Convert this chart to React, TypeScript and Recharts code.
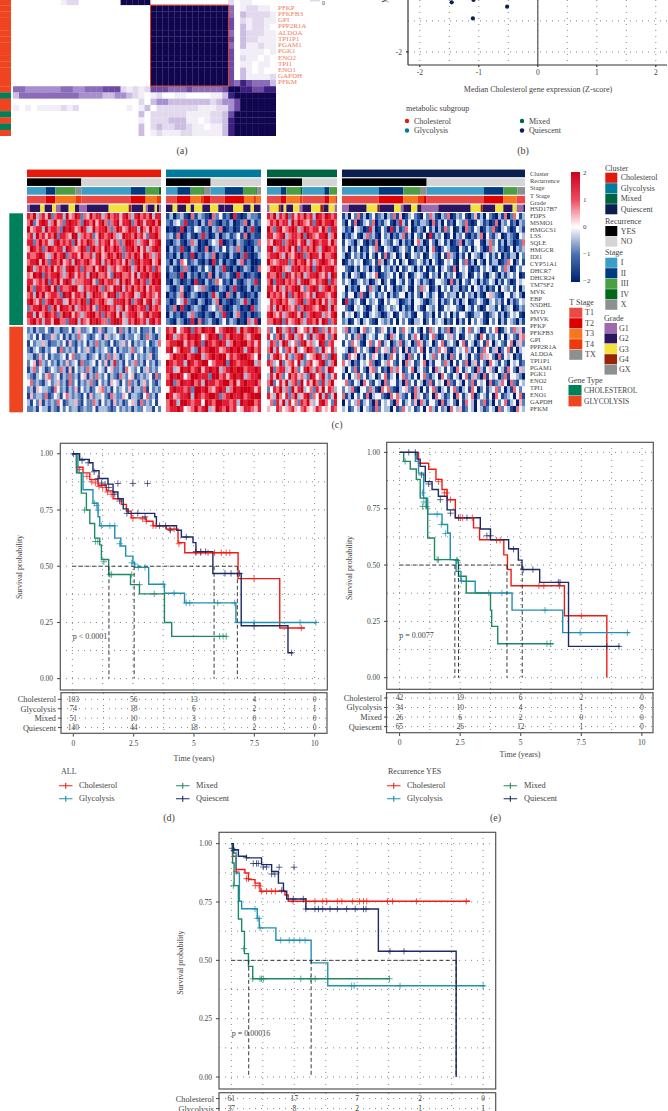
import { CartesianGrid, ComposedChart, Line, ReferenceLine, Scatter, ScatterChart, XAxis, YAxis } from 'recharts';

const serif = '"Liberation Serif", serif';
const textColor = '#444';

// ---- panel (a): correlation heatmap, levels 0 (white) to 8 (navy)
const corrRows = [
  '00000000122000000088888000000000000020110000',
  '00000000000000000000000888888888888850122110',
  '00000000000000000000000888888888888850322221',
  '00000000000000000000000888888888888860212211',
  '00000000000000000000000888888888888860312210',
  '00000000000000000000000888888888888850322211',
  '00000000000000000000000888888888888860322111',
  '00000000000000000000000888888888888850311211',
  '00000000000000000000000888888888888860111101',
  '00000000000000000000000888888888888860211010',
  '00000000000000000000000888888888888860110110',
  '00000000000000000000000888888888888860310100',
  '00000000000000000000000888888888888860311112',
  '00000000000000000000000888888888888865765553',
  '55444444554455566621212666555655555688776677',
  '35555555555444433443210120011000011378888888',
  '00000000000000000000020344333333323446888888',
  '10101111212000000001013022222221112246888888',
  '00000000000000000000030222222111122368888888',
  '00000000000000000000010222333110122378888888',
  '00000000000000000000030232233211011378888888',
  '00000000000000000000030121112211111378888888',
];
const corrStrip = 'OOOOOOOOOOOOOOOGOOGOGO'.split('');
const corrGenes = ['PFKP', 'PFKFB3', 'GPI', 'PPP2R1A', 'ALDOA', 'TPI1P1', 'PGAM1', 'PGK1', 'ENO2', 'TPI1', 'ENO1', 'GAPDH', 'PFKM'];
const corrColors: Record<string, string> = {
  '0': '#ffffff', '1': '#f2eef7', '2': '#e2d9ef', '3': '#cbbde2', '4': '#a78fcf', '5': '#8a6cb9',
  '6': '#6b4ba3', '7': '#3c1f80', '8': '#10064f', O: '#ee4420', G: '#00805a',
};

// ---- panel (b): the few visible points
const quadrantX = [-1.46, -1.09, -0.52, -1.1];
const quadrantY = [-1.2, -1.16, -1.27, -1.46];
const quadrantTicksX = [-2, -1, 0, 1, 2];
const quadrantTicksY = [-2, -1];

// ---- panel (c): expression heatmap, levels 0 (-2) to 8 (+2)
const cholCluster = [
  '76836 75826 77385 68726 58677 36867 75786 37867 68377',
  '68257 87368 56278 77628 76857 86267 85778 26875 77868',
  '85677 38677 62878 75687 35867 78626 87568 77386 58676',
  '67386 75768 27765 88367 67258 76786 35877 68675 27786',
  '77268 67537 86767 28576 87637 67857 62688 76367 85678',
  '58767 26876 77387 65687 27867 58768 76277 86857 36787',
  '76678 75368 67826 77586 67378 56876 87267 68758 76367',
  '67785 86277 68567 38767 86578 37687 67586 27867 78568',
  '87367 67685 76378 86727 66857 87367 56787 36868 67276',
  '65878 27677 86368 75767 38786 67528 78667 58377 86787',
  '77567 68276 85787 36667 78527 86776 38687 57867 26878',
  '86277 67858 27667 88537 67786 27658 78376 86768 57677',
  '67386 85677 62878 57768 36877 65878 26767 85378 67657',
  '78657 26786 77358 67687 28767 86537 77868 26785 78367',
  '26778 67268 58776 83677 68527 78767 36857 87677 28676',
  '77385 68767 26878 57636 78867 27678 58367 78657 86778',
  '67867 37758 86627 78376 58787 66278 87537 68767 37867',
];
const cholBottom = [
  '23132 24213 31224 13522 34125 21334 16231 32412 23143',
  '32414 12253 24131 32634 21243 15323 42132 24312 63213',
  '14233 53122 32415 21324 13262 32141 23524 13232 41236',
  '21342 13244 16232 31423 52132 34214 13223 62341 32124',
  '33125 24132 23414 62233 12341 32625 31243 14232 35124',
  '24516 32423 13252 34162 23414 25137 23142 36231 42313',
  '13624 31243 26315 14232 63124 31452 23164 32413 52324',
  '32134 25623 41326 23145 13263 24132 16324 51232 34162',
  '46232 13423 52316 24132 36214 23154 31426 23135 24213',
  '23154 33216 42313 25142 31245 62314 23425 13326 14232',
  '15233 26124 31463 23214 15233 42163 22541 33214 62314',
  '31425 13232 64123 35214 22631 42315 23124 53162 32414',
  '22314 33132 14242 33123 22413 33212 42323 13224 33142',
];
const glyTop = [
  '13023 10613 21062 41207 10132 21',
  '21342 71120 31621 02130 12603 12',
  '01017 02143 12032 60120 13027 10',
  '23160 13102 72013 02312 41602 11',
  '10231 02630 10243 70120 32101 26',
  '03127 10320 16023 14132 62010 32',
  '12030 21702 13260 21031 02710 13',
  '20316 41231 02071 30210 36120 01',
  '13102 62013 14203 27102 01320 16',
  '02217 03120 21603 12310 72012 10',
  '10320 12071 03126 41203 10232 71',
  '31025 10243 62101 32027 10130 21',
  '02136 01320 10273 10620 31012 03',
  '20143 72103 20136 02101 23720 13',
  '12607 10232 01342 61013 20107 23',
  '03120 13621 02103 27103 61020 12',
  '21032 01706 12310 24132 01063 70',
];
const glyBottom = [
  '76846 78276 87784 67887 38678 76',
  '87367 68787 46878 27687 78657 88',
  '67788 57687 28767 87368 78867 57',
  '78468 77328 67887 56787 87378 67',
  '46877 86788 36787 88576 78876 48',
  '87677 38767 88467 78287 67788 36',
  '77358 78678 57878 36787 88677 87',
  '68787 46887 77288 67578 78367 78',
  '78268 77867 38776 78868 57877 86',
  '47877 67288 78657 87368 78887 57',
  '87567 78387 67887 26787 78678 88',
  '68738 87677 48768 87767 38788 67',
  '67787 45686 78358 76867 45776 57',
];
const mixTop = [
  '76837 68275 76867 38768 767',
  '57686 77386 87657 27867 786',
  '86278 56787 36876 77586 277',
  '77567 83677 68287 65778 368',
  '65877 26787 57836 87677 586',
  '78367 76858 27676 86378 767',
  '67786 38657 87268 77586 678',
  '86567 77268 67857 36787 657',
  '57878 65377 86768 27867 786',
  '76687 28757 68367 78657 387',
  '68277 86767 37886 57678 276',
  '77586 37678 85267 87367 867',
  '86767 58276 87657 38776 578',
  '47678 67536 78267 86857 367',
  '57386 87657 26877 65787 386',
  '78657 36787 58267 87736 578',
  '66878 27567 86377 68587 267',
];
const mixBottom = [
  '62487 36728 54673 87263 756',
  '74268 25783 67428 36785 268',
  '37625 87346 27856 34872 674',
  '68374 26758 34687 62385 473',
  '25786 47326 78245 68736 287',
  '76348 25674 83267 45782 368',
  '48267 73586 24786 37625 874',
  '37586 24867 56328 74683 257',
  '68247 58367 28475 86273 684',
  '24768 36285 78346 27584 763',
  '75386 47268 35782 64837 258',
  '46275 83746 27685 34786 427',
  '54476 45675 46754 57645 476',
];
const quiTop = [
  '13042 61302 41230 32615 01342 10426 31032 60132 41025 13042 10316 02641 3',
  '20416 01342 60213 41027 31402 13320 61304 12043 26101 43120 16032 41203 2',
  '31204 32017 30142 07131 26401 32041 30316 24013 06214 30132 61034 20143 1',
  '02134 10362 31042 30213 61304 21407 13240 14032 41021 36042 13401 32104 3',
  '14320 34102 16043 21430 31204 63014 20341 30126 03214 41036 24130 32012 6',
  '24031 40214 36104 32013 42140 21304 61024 31104 21403 42016 34120 14032 3',
  '30142 31304 20416 13402 40143 24014 32041 63203 14043 20341 31402 13304 2',
  '01324 34012 41630 24140 34012 43130 42014 34104 26130 42041 33012 64024 1',
  '42103 14230 31042 31304 12430 31402 14034 21604 34102 14243 01426 30142 4',
  '13043 20143 46012 34140 24013 43104 23041 32401 34014 24103 42031 34240 1',
  '24301 34230 13402 41043 14204 31320 14432 06130 42143 03124 30314 20143 4',
  '40312 04416 32041 43021 34104 26340 13042 41330 21404 31302 14043 24140 3',
  '31440 26103 41324 03124 40314 20431 34014 23304 14230 31045 32104 41342 0',
  '07213 41042 34104 24430 12304 43102 34031 24130 34012 43103 42314 03124 3',
  '42104 34201 43013 42340 31204 31043 24014 34421 04314 20143 31402 34013 2',
  '14340 24103 43201 34014 32310 44123 04142 40314 42013 34102 34130 24341 0',
  '23014 30342 10432 31404 24103 34024 13430 21403 14042 43104 24031 43203 1',
];
const quiBottom = [
  '36132 04623 41254 13042 64314 20416 34132 60243 14624 30142 46013 42635 1',
  '42413 62034 31442 06341 24136 40214 62014 35240 14342 06413 24140 34215 6',
  '14264 31046 24613 40236 13402 65134 02461 34204 61430 24164 03421 46035 2',
  '43016 42431 06245 31624 05132 46041 32645 10243 46314 02641 35024 61403 4',
  '21645 03142 54130 26414 30624 14043 62413 06241 43042 16354 20614 34021 4',
  '64302 14346 20143 64214 06341 24603 14426 30414 26035 14206 43142 04341 2',
  '30426 14205 62412 06364 12460 34214 06341 42064 13420 63145 20431 64205 3',
  '14043 62413 40246 13404 62314 04621 34064 21430 46135 20614 34026 14432 0',
  '46214 30642 14306 24413 06241 43026 14340 62143 04261 43406 12364 06214 3',
  '24361 04426 31064 62103 45216 30414 62034 14620 34164 02413 46240 31642 4',
  '61304 24160 34421 06463 21406 34124 06431 24064 13460 24314 06412 34046 1',
  '04243 61342 06143 42064 13425 06314 42061 34204 16430 42613 04246 13405 2',
  '34124 30432 16243 30412 64341 24046 31423 06435 12430 43124 30624 31064 3',
];
const trackNames = ['Cluster', 'Recurrence', 'Stage', 'T Stage', 'Grade'];
const geneNames = [
  'HSD17B7', 'FDPS', 'MSMO1', 'HMGCS1', 'LSS', 'SQLE', 'HMGCR', 'IDI1', 'CYP51A1', 'DHCR7', 'DHCR24', 'TM7SF2', 'MVK', 'EBP',
  'NSDHL', 'MVD', 'PMVK', 'PFKP', 'PFKFB3', 'GPI', 'PPP2R1A', 'ALDOA', 'TPI1P1', 'PGAM1', 'PGK1', 'ENO2', 'TPI1', 'ENO1', 'GAPDH', 'PFKM',
];
const heatColors: Record<string, string> = {
  '0': '#001f70', '1': '#1f4595', '2': '#5b80bb', '3': '#a8bcdc', '4': '#f5f5f8', '5': '#f7b6bf', '6': '#ef6a78', '7': '#e31c35', '8': '#c90015',
};
const trackColors: Record<string, string> = {
  Cholesterol: '#e31a0c', Glycolysis: '#007b9e', Mixed: '#006341', Quiescent: '#0a1e50',
  YES: '#000000', NO: '#d5d5d5',
  I: '#3c9dc6', II: '#003a80', III: '#4c9e42', IV: '#006a1a', X: '#8c9090',
  T1: '#ea4a45', T2: '#dc0000', T3: '#f97620', T4: '#ec3a0c', TX: '#8c9090',
  G1: '#9d6aad', G2: '#2a1560', G3: '#f2e23e', G4: '#9a2308', GX: '#8c9090',
  CHOLESTEROL: '#00805a', GLYCOLYSIS: '#ee4420',
};
type Seg = [string, number];
const cholTracks: Seg[][] = [
  [['Cholesterol', 402]],
  [['YES', 163], ['NO', 239]],
  [['I', 56], ['II', 29], ['III', 60], ['X', 18], ['I', 149], ['II', 44], ['III', 39], ['IV', 7]],
  [['T1', 56], ['T2', 29], ['T3', 60], ['T4', 18], ['T1', 149], ['T2', 44], ['T3', 34], ['T4', 12]],
  [['G1', 8], ['G2', 32], ['G3', 13], ['G2', 22], ['G3', 12], ['G1', 13], ['G2', 25], ['G3', 19], ['G2', 12], ['G1', 24], ['G2', 65], ['G3', 60], ['G4', 7], ['G1', 3], ['G2', 33], ['G3', 8], ['G1', 7], ['G2', 20], ['G3', 7], ['G2', 7], ['G1', 5]],
];
const glyTracks: Seg[][] = [
  [['Glycolysis', 286]],
  [['YES', 134], ['NO', 152]],
  [['I', 34], ['II', 40], ['III', 38], ['IV', 2], ['X', 20], ['I', 42], ['II', 55], ['III', 40], ['IV', 3], ['X', 12]],
  [['T1', 32], ['T2', 42], ['T3', 30], ['T4', 10], ['T2', 20], ['T1', 42], ['T2', 58], ['T3', 28], ['T4', 8], ['T3', 16]],
  [['G2', 20], ['G3', 14], ['G2', 26], ['G3', 14], ['G2', 11], ['G3', 24], ['G2', 23], ['G3', 25], ['G2', 17], ['G1', 2], ['G2', 26], ['G3', 30], ['G2', 22], ['G3', 10], ['G2', 18], ['G1', 4]],
];
const mixTracks: Seg[][] = [
  [['Mixed', 210]],
  [['YES', 105], ['NO', 105]],
  [['I', 42], ['II', 16], ['III', 42], ['IV', 6], ['I', 66], ['II', 15], ['III', 23]],
  [['T1', 42], ['T2', 16], ['T3', 40], ['T4', 8], ['T1', 66], ['T2', 15], ['T3', 18], ['T4', 5]],
  [['G1', 8], ['G3', 27], ['G4', 5], ['G2', 10], ['G3', 8], ['G2', 20], ['G3', 19], ['G1', 9], ['G2', 26], ['G3', 28], ['G4', 10], ['G2', 15], ['G3', 18], ['G1', 7]],
];
const quiTracks: Seg[][] = [
  [['Quiescent', 549]],
  [['YES', 254], ['NO', 295]],
  [['I', 110], ['II', 74], ['III', 50], ['X', 20], ['I', 172], ['II', 58], ['III', 42], ['X', 23]],
  [['T1', 110], ['T2', 74], ['T3', 42], ['T4', 20], ['T2', 8], ['T1', 172], ['T2', 58], ['T3', 40], ['T1', 25]],
  [['G1', 20], ['G2', 54], ['G3', 32], ['G4', 6], ['G2', 44], ['G3', 20], ['G1', 8], ['G2', 23], ['G3', 19], ['G2', 13], ['G1', 50], ['G2', 97], ['G3', 30], ['G4', 6], ['G2', 38], ['G3', 24], ['G2', 28], ['G3', 12], ['G1', 20], ['G2', 5]],
];

// ---- survival panels: [time, survival] steps and censor marks
type Pt = [number, number];
const dChol: Pt[] = [[0, 1], [0.17, 0.94], [0.44, 0.915], [0.72, 0.885], [1.06, 0.86], [1.4, 0.835], [1.68, 0.8], [2.02, 0.775], [2.23, 0.745], [2.43, 0.715], [3.05, 0.7], [3.33, 0.68], [3.88, 0.665], [4.36, 0.605], [4.64, 0.56], [6.84, 0.445], [8.56, 0.225], [9.6, 0.225]];
const dGly: Pt[] = [[0, 1], [0.23, 0.915], [0.44, 0.84], [0.85, 0.78], [1.06, 0.72], [1.13, 0.68], [1.75, 0.625], [2.0, 0.59], [2.2, 0.545], [2.5, 0.515], [2.57, 0.495], [3.15, 0.42], [3.8, 0.38], [4.63, 0.337], [6.75, 0.25], [10.1, 0.25]];
const dMix: Pt[] = [[0, 1], [0.17, 0.915], [0.37, 0.825], [0.58, 0.75], [0.72, 0.69], [0.92, 0.625], [1.13, 0.595], [1.2, 0.53], [1.5, 0.463], [2.4, 0.418], [2.77, 0.377], [3.8, 0.25], [4.1, 0.188], [6.35, 0.188]];
const dQui: Pt[] = [[0, 1], [0.3, 0.975], [0.7, 0.96], [0.85, 0.925], [1.1, 0.89], [1.47, 0.865], [1.68, 0.83], [1.88, 0.8], [2.1, 0.755], [2.3, 0.735], [3.4, 0.72], [3.47, 0.68], [4.3, 0.66], [4.5, 0.63], [4.98, 0.605], [5.1, 0.565], [5.8, 0.468], [6.97, 0.235], [8.9, 0.115], [9.1, 0.115]];
const dCholCens: Pt[] = [[0.3, 0.93], [0.6, 0.9], [0.8, 0.875], [0.95, 0.87], [1.1, 0.855], [1.25, 0.85], [1.45, 0.83], [1.6, 0.82], [2.5, 0.715], [2.9, 0.71], [3.05, 0.7], [3.33, 0.68], [3.45, 0.68], [4.0, 0.665], [4.2, 0.665], [4.4, 0.6], [5.1, 0.56], [5.3, 0.56], [5.6, 0.56], [5.87, 0.56], [6.15, 0.56], [6.35, 0.56], [6.5, 0.56], [7.5, 0.445], [9.45, 0.225]];
const dGlyCens: Pt[] = [[0.92, 0.78], [1.0, 0.77], [1.06, 0.75], [1.2, 0.68], [1.55, 0.68], [1.75, 0.68], [1.95, 0.6], [2.45, 0.515], [2.57, 0.51], [2.72, 0.495], [3.0, 0.495], [3.75, 0.42], [4.2, 0.38], [4.7, 0.337], [4.85, 0.337], [6.0, 0.337], [6.7, 0.337], [7.5, 0.25], [9.4, 0.25], [10.05, 0.25]];
const dMixCens: Pt[] = [[0.5, 0.75], [0.95, 0.61], [1.05, 0.61], [1.3, 0.52], [1.55, 0.463], [1.62, 0.463], [2.45, 0.463], [2.77, 0.418], [3.38, 0.377], [6.08, 0.188], [6.22, 0.188], [6.35, 0.188]];
const dQuiCens: Pt[] = [[0.05, 1], [0.4, 0.97], [0.65, 0.96], [0.9, 0.92], [1.05, 0.89], [1.2, 0.87], [1.35, 0.865], [1.5, 0.85], [1.75, 0.82], [1.95, 0.79], [2.25, 0.735], [2.7, 0.735], [3.0, 0.72], [3.6, 0.68], [3.85, 0.68], [4.05, 0.66], [4.7, 0.63], [5.1, 0.565], [5.3, 0.565], [5.5, 0.565], [1.88, 0.868], [2.5, 0.868], [3.1, 0.868], [6.3, 0.468], [6.55, 0.468], [6.9, 0.468], [7.5, 0.235], [9.05, 0.115]];
const dMedians = [1.51, 2.55, 5.85, 6.81];
const dRisk = [[103, 56, 13, 4, 0], [74, 18, 6, 2, 1], [51, 10, 3, 0, 0], [140, 44, 18, 2, 0]];

const eChol: Pt[] = [[0, 1], [0.78, 0.952], [1.2, 0.925], [1.5, 0.88], [1.75, 0.835], [1.96, 0.79], [2.3, 0.71], [3.05, 0.665], [3.3, 0.612], [4.3, 0.545], [4.45, 0.48], [4.6, 0.408], [6.8, 0.275], [8.55, 0]];
const eGly: Pt[] = [[0, 1], [0.65, 0.96], [0.78, 0.908], [0.99, 0.797], [1.16, 0.726], [1.75, 0.68], [1.98, 0.642], [2.09, 0.524], [2.33, 0.472], [2.53, 0.428], [3.12, 0.376], [4.64, 0.3], [6.73, 0.2], [9.5, 0.2]];
const eMix: Pt[] = [[0, 1], [0.17, 0.96], [0.44, 0.926], [0.69, 0.88], [0.85, 0.797], [1.1, 0.753], [1.16, 0.62], [1.44, 0.524], [2.43, 0.45], [2.75, 0.376], [3.75, 0.3], [3.8, 0.228], [4.05, 0.151], [6.35, 0.151]];
const eQui: Pt[] = [[0, 1], [0.72, 0.97], [0.85, 0.938], [1.06, 0.87], [1.34, 0.835], [1.6, 0.805], [1.96, 0.745], [2.3, 0.71], [3.33, 0.66], [3.75, 0.612], [4.5, 0.572], [4.9, 0.522], [5.05, 0.48], [5.78, 0.423], [6.97, 0.139], [9.1, 0.139]];
const eCholCens: Pt[] = [[1.6, 0.87], [1.85, 0.82], [1.95, 0.82], [2.1, 0.79], [2.5, 0.71], [2.6, 0.71], [3.0, 0.71], [4.0, 0.61], [4.15, 0.61], [5.75, 0.408], [5.95, 0.408], [6.6, 0.408], [7.5, 0.275]];
const eGlyCens: Pt[] = [[0.95, 0.82], [1.0, 0.78], [1.55, 0.726], [1.72, 0.68], [1.9, 0.64], [2.35, 0.52], [2.55, 0.43], [3.68, 0.376], [4.22, 0.376], [6.0, 0.3], [7.45, 0.2], [9.4, 0.2]];
const eMixCens: Pt[] = [[0.23, 0.96], [0.95, 0.76], [1.1, 0.76], [1.55, 0.524], [1.6, 0.524], [2.38, 0.52], [6.08, 0.151], [6.22, 0.151]];
const eQuiCens: Pt[] = [[0.38, 1], [0.65, 1], [0.9, 0.9], [1.2, 0.86], [1.68, 0.79], [2.1, 0.73], [2.43, 0.71], [2.78, 0.71], [3.6, 0.63], [3.75, 0.63], [4.7, 0.57], [5.1, 0.48], [5.5, 0.48], [6.55, 0.423], [6.62, 0.423], [8.55, 0.139], [9.05, 0.139]];
const eMedians = [2.28, 2.43, 4.43, 5.06];
const eRisk = [[42, 19, 6, 2, 0], [34, 10, 4, 1, 0], [26, 6, 2, 0, 0], [65, 26, 12, 1, 0]];

const fChol: Pt[] = [[0, 1], [0.05, 0.946], [0.19, 0.889], [0.54, 0.874], [0.68, 0.846], [0.94, 0.831], [1.14, 0.796], [2.13, 0.78], [2.26, 0.753], [9.48, 0.753]];
const fGly: Pt[] = [[0, 1], [0.08, 0.96], [0.19, 0.874], [0.32, 0.753], [0.41, 0.721], [1.03, 0.68], [1.11, 0.639], [1.77, 0.586], [3.17, 0.489], [3.83, 0.391], [10.08, 0.391]];
const fMix: Pt[] = [[0, 1], [0.05, 0.917], [0.11, 0.82], [0.28, 0.677], [0.41, 0.624], [0.52, 0.529], [0.68, 0.474], [0.85, 0.421], [6.3, 0.421]];
const fQui: Pt[] = [[0, 1], [0.08, 0.974], [0.28, 0.946], [0.6, 0.939], [1.2, 0.91], [1.6, 0.881], [1.87, 0.831], [2.07, 0.796], [2.2, 0.763], [2.96, 0.72], [5.84, 0.539], [8.93, 0]];
const fCholCens: Pt[] = [[0.2, 0.88], [0.6, 0.85], [0.68, 0.85], [0.95, 0.82], [1.1, 0.82], [1.2, 0.796], [1.4, 0.796], [1.6, 0.796], [1.75, 0.796], [2.45, 0.753], [2.98, 0.753], [3.32, 0.753], [3.63, 0.753], [3.79, 0.753], [4.21, 0.753], [4.39, 0.753], [4.82, 0.753], [5.09, 0.753], [5.25, 0.753], [5.38, 0.753], [6.2, 0.753], [6.4, 0.753], [7.35, 0.753], [9.33, 0.753]];
const fGlyCens: Pt[] = [[0.94, 0.72], [1.03, 0.68], [1.1, 0.68], [1.14, 0.639], [1.96, 0.586], [2.3, 0.586], [2.49, 0.586], [2.72, 0.586], [2.93, 0.586], [4.78, 0.391], [4.88, 0.391], [6.7, 0.391], [10.0, 0.391]];
const fMixCens: Pt[] = [[0.08, 0.82], [0.5, 0.55], [0.85, 0.421], [1.14, 0.421], [1.2, 0.421], [1.27, 0.421], [2.76, 0.421], [3.15, 0.421], [3.33, 0.421], [6.28, 0.421]];
const fQuiCens: Pt[] = [[0.03, 0.98], [0.1, 0.97], [0.6, 0.94], [0.87, 0.915], [1.0, 0.915], [1.07, 0.915], [1.27, 0.9], [1.4, 0.9], [1.6, 0.87], [1.73, 0.87], [2.0, 0.8], [2.46, 0.763], [2.86, 0.763], [2.96, 0.72], [3.32, 0.72], [3.46, 0.72], [3.63, 0.72], [3.92, 0.72], [4.21, 0.72], [4.58, 0.72], [4.92, 0.72], [5.25, 0.72], [5.35, 0.72], [6.3, 0.539], [6.86, 0.539], [1.9, 0.899], [2.49, 0.899]];
const fMedians = [0.69, 3.17, 8.93];
const fRisk = [[61, 17, 7, 2, 0], [37, 8, 2, 1, 1]];

const groupNames = ['Cholesterol', 'Glycolysis', 'Mixed', 'Quiescent'];
const groupColors = ['#f01c14', '#2090b0', '#1f8a60', '#1c2a66'];
const timeTicks = [0, 2.5, 5, 7.5, 10];
const gridTimes = [0, 1.25, 2.5, 3.75, 5, 6.25, 7.5, 8.75, 10];
const gridSurv = [0, 0.125, 0.25, 0.375, 0.5, 0.625, 0.75, 0.875, 1];
const survTicks = [0, 0.25, 0.5, 0.75, 1];

const tickStyle = { fontSize: 7.5, fontFamily: serif, fill: textColor };
const noMargin = { top: 0, right: 0, bottom: 0, left: 0 };

function HeatGrid({ left, top, width, height, rows, colors }: { left: number; top: number; width: number; height: number; rows: string[]; colors: Record<string, string> }) {
  const clean = rows.map((r) => r.replace(/ /g, ''));
  const nCols = clean[0].length;
  const cells = clean.flatMap((row, r) => row.split('').map((level, c) => ({ c, r, level })));
  const cw = width / nCols;
  const ch = height / clean.length;
  return (
    <div style={{ position: 'absolute', left, top }}>
      <ScatterChart width={width} height={height} margin={noMargin}>
        <XAxis type="number" dataKey="c" domain={[-0.5, nCols - 0.5]} hide />
        <YAxis type="number" dataKey="r" domain={[-0.5, clean.length - 0.5]} reversed hide />
        <Scatter
          data={cells}
          isAnimationActive={false}
          shape={(p: any) => <rect x={p.cx - cw / 2} y={p.cy - ch / 2} width={cw + 0.2} height={ch + 0.2} fill={colors[p.payload.level]} />}
        />
      </ScatterChart>
    </div>
  );
}

function Tracks({ left, width, tracks }: { left: number; width: number; tracks: Seg[][] }) {
  const segs = tracks.flatMap((track, row) => {
    const total = track.reduce((a, s) => a + s[1], 0);
    let pos = 0;
    return track.map(([code, n]) => {
      const seg = { x: (pos + n / 2) / total, row, code, span: n / total };
      pos += n;
      return seg;
    });
  });
  return (
    <div style={{ position: 'absolute', left, top: 168.6 }}>
      <ScatterChart width={width} height={43.75} margin={noMargin}>
        <XAxis type="number" dataKey="x" domain={[0, 1]} hide />
        <YAxis type="number" dataKey="row" domain={[-0.5, 4.5]} reversed hide />
        <Scatter
          data={segs}
          isAnimationActive={false}
          shape={(p: any) => <rect x={p.cx - (p.payload.span * width) / 2} y={p.cy - 3.8} width={p.payload.span * width} height={7.6} fill={trackColors[p.payload.code]} />}
        />
      </ScatterChart>
    </div>
  );
}

const toPts = (pts: Pt[]) => pts.map(([t, s]) => ({ t, s }));

function Plus(p: any) {
  const { cx, cy, fill } = p;
  return <path d={`M${cx - 3.2} ${cy}H${cx + 3.2}M${cx} ${cy - 3.2}V${cy + 3.2}`} stroke={fill} strokeWidth={0.9} strokeOpacity={0.8} fill="none" />;
}

interface KmProps {
  box: { x: number; y: number; w: number; h: number };
  xDomain: [number, number];
  yDomain: [number, number];
  series: Pt[][];
  censors: Pt[][];
  medians: number[];
}

function KmPlot({ box, xDomain, yDomain, series, censors, medians }: KmProps) {
  const gutter = 60;
  const maxMedian = Math.max(...medians);
  return (
    <div style={{ position: 'absolute', left: box.x - gutter, top: box.y }}>
      <ComposedChart width={box.w + gutter} height={box.h} margin={noMargin}>
        <CartesianGrid stroke="#888" strokeDasharray="1 5" verticalValues={gridTimes} horizontalValues={gridSurv} />
        <XAxis type="number" dataKey="t" domain={xDomain} hide />
        <YAxis
          type="number"
          dataKey="s"
          domain={yDomain}
          width={gutter}
          ticks={survTicks}
          tickFormatter={(v: number) => v.toFixed(2)}
          tick={tickStyle}
          tickSize={3}
          tickMargin={4}
          axisLine={false}
          stroke="#444"
        />
        {series.map((pts, i) => (
          <Line key={groupNames[i]} data={toPts(pts)} dataKey="s" type="stepAfter" stroke={groupColors[i]} strokeWidth={1.4} dot={false} activeDot={false} isAnimationActive={false} />
        ))}
        {censors.map((pts, i) => (
          <Scatter key={groupNames[i]} data={toPts(pts)} fill={groupColors[i]} shape={Plus} isAnimationActive={false} />
        ))}
        <Line data={toPts([[0, 0.5], [maxMedian, 0.5]])} dataKey="s" type="linear" stroke="#222" strokeWidth={0.9} strokeDasharray="4 2.5" dot={false} activeDot={false} isAnimationActive={false} />
        {medians.map((m) => (
          <Line key={m} data={toPts([[m, 0.5], [m, 0]])} dataKey="s" type="linear" stroke="#222" strokeWidth={0.9} strokeDasharray="4 2.5" dot={false} activeDot={false} isAnimationActive={false} />
        ))}
      </ComposedChart>
    </div>
  );
}

function RiskTable({ box, xDomain, yDomain, risk }: { box: KmProps['box']; xDomain: [number, number]; yDomain: [number, number]; risk: number[][] }) {
  const gutter = 60;
  const cells = risk.flatMap((row, r) => row.map((n, i) => ({ t: timeTicks[i], r, n })));
  const rowIds = risk.map((_, r) => r);
  return (
    <div style={{ position: 'absolute', left: box.x - gutter, top: box.y }}>
      <ComposedChart width={box.w + gutter} height={box.h + 22} margin={noMargin}>
        <CartesianGrid stroke="#888" strokeDasharray="1 5" verticalValues={gridTimes} horizontalValues={rowIds} />
        <XAxis type="number" dataKey="t" domain={xDomain} ticks={timeTicks} height={22} tick={tickStyle} tickSize={3} tickMargin={4} axisLine={false} stroke="#444" interval={0} />
        <YAxis
          type="number"
          dataKey="r"
          domain={yDomain}
          reversed
          width={gutter}
          ticks={rowIds}
          interval={0}
          tickFormatter={(v: number) => groupNames[v]}
          tick={{ ...tickStyle, fontSize: 8.3 }}
          tickSize={3}
          tickMargin={2}
          axisLine={false}
          stroke="#444"
        />
        <Scatter
          data={cells}
          isAnimationActive={false}
          shape={(p: any) => (
            <text x={p.cx} y={p.cy} textAnchor="middle" dominantBaseline="central" fontSize={7.5} fontFamily={serif} fill={textColor}>
              {p.payload.n}
            </text>
          )}
        />
      </ComposedChart>
    </div>
  );
}

function T({ x, y, size = 8, anchor = 'start', fill = textColor, children }: { x: number; y: number; size?: number; anchor?: string; fill?: string; children: any }) {
  return (
    <text x={x} y={y} fontSize={size} textAnchor={anchor as any} dominantBaseline="central" fill={fill}>
      {children}
    </text>
  );
}

function Swatches({ x, y, w, h, keys, labelX, title, titleX, titleY, size = 8 }: { x: number; y: number; w: number; h: number; keys: string[]; labelX: number; title: string; titleX: number; titleY: number; size?: number }) {
  return (
    <g>
      <T x={titleX} y={titleY} size={8}>{title}</T>
      {keys.map((k, i) => (
        <g key={k}>
          <rect x={x} y={y + i * h} width={w} height={h - 0.4} fill={trackColors[k]} />
          <T x={labelX} y={y + i * h + h / 2} size={size}>{k}</T>
        </g>
      ))}
    </g>
  );
}

function KmLegend({ x1, x2, text1, text2, y1, y2 }: { x1: number; x2: number; text1: number; text2: number; y1: number; y2: number }) {
  const slots = [[x1, y1, text1], [x1, y2, text1], [x2, y1, text2], [x2, y2, text2]];
  return (
    <g>
      {slots.map(([x, y, tx], i) => (
        <g key={groupNames[i]}>
          <path d={`M${x} ${y}h13.5M${x + 6.75} ${y - 3}v6`} stroke={groupColors[i]} strokeWidth={1.1} fill="none" />
          <T x={tx} y={y} size={8.3}>{groupNames[i]}</T>
        </g>
      ))}
    </g>
  );
}

const boxD = { x: 60.3, y: 443.3, w: 267, h: 246.7 };
const boxE = { x: 386.7, y: 442.3, w: 266.6, h: 247 };
const boxF = { x: 219, y: 832.3, w: 276.7, h: 256.7 };
const riskD = { x: 61, y: 692.7, w: 266, h: 40.6 };
const riskE = { x: 386.5, y: 692.7, w: 266.5, h: 40 };
const riskF = { x: 219, y: 1092.7, w: 276.7, h: 40 };

export default function App() {
  const bubbles = quadrantX.map((x, i) => ({ x, y: quadrantY[i] }));
  return (
    <div style={{ position: 'absolute', left: 0, top: 0, width: 668, height: 1111, overflow: 'hidden', background: '#fff', fontFamily: serif }}>
      {/* (a) */}
      <HeatGrid left={13} top={-1.23} width={263} height={137.1} rows={corrRows} colors={corrColors} />
      <HeatGrid left={0} top={-1.23} width={11} height={137.1} rows={corrStrip} colors={corrColors} />

      {/* (b) */}
      <div style={{ position: 'absolute', left: 368, top: -120 }}>
        <ScatterChart width={299} height={200} margin={{ top: 0, right: 0, bottom: 0, left: 0 }}>
          <CartesianGrid stroke="#888" strokeDasharray="1 5" verticalValues={[-2, -1.5, -1, -0.5, 0, 0.5, 1, 1.5, 2]} horizontalValues={[-2, -1.5, -1, -0.5, 0]} />
          <XAxis type="number" dataKey="x" domain={[-2.2, 2.19]} ticks={quadrantTicksX} height={15} tick={tickStyle} tickSize={2} tickMargin={3} stroke="#333" strokeWidth={1.2} interval={0} />
          <YAxis type="number" dataKey="y" domain={[-2.21, 0.77]} ticks={quadrantTicksY} width={40} tick={tickStyle} tickSize={2} tickMargin={4} stroke="#333" strokeWidth={1.2} interval={0} />
          <ReferenceLine x={0} stroke="#555" strokeWidth={1.2} />
          <Scatter data={bubbles} fill="#0a1e50" isAnimationActive={false} shape={(p: any) => <circle cx={p.cx} cy={p.cy} r={2.1} fill="#0a1e50" />} />
        </ScatterChart>
      </div>

      {/* (c) */}
      <Tracks left={26.7} width={134} tracks={cholTracks} />
      <Tracks left={166} width={95.3} tracks={glyTracks} />
      <Tracks left={266.7} width={70} tracks={mixTracks} />
      <Tracks left={342} width={183} tracks={quiTracks} />
      <HeatGrid left={26.7} top={213.3} width={134} height={111.7} rows={cholCluster} colors={heatColors} />
      <HeatGrid left={166} top={213.3} width={95.3} height={111.7} rows={glyTop} colors={heatColors} />
      <HeatGrid left={266.7} top={213.3} width={70} height={111.7} rows={mixTop} colors={heatColors} />
      <HeatGrid left={342} top={213.3} width={183} height={111.7} rows={quiTop} colors={heatColors} />
      <HeatGrid left={26.7} top={326.7} width={134} height={85.6} rows={cholBottom} colors={heatColors} />
      <HeatGrid left={166} top={326.7} width={95.3} height={85.6} rows={glyBottom} colors={heatColors} />
      <HeatGrid left={266.7} top={326.7} width={70} height={85.6} rows={mixBottom} colors={heatColors} />
      <HeatGrid left={342} top={326.7} width={183} height={85.6} rows={quiBottom} colors={heatColors} />

      {/* (d) */}
      <KmPlot box={boxD} xDomain={[-0.51, 10.51]} yDomain={[-0.049, 1.048]} series={[dChol, dGly, dMix, dQui]} censors={[dCholCens, dGlyCens, dMixCens, dQuiCens]} medians={dMedians} />
      <RiskTable box={riskD} xDomain={[-0.51, 10.51]} yDomain={[-0.67, 3.64]} risk={dRisk} />

      {/* (e) */}
      <KmPlot box={boxE} xDomain={[-0.52, 10.48]} yDomain={[-0.05, 1.046]} series={[eChol, eGly, eMix, eQui]} censors={[eCholCens, eGlyCens, eMixCens, eQuiCens]} medians={eMedians} />
      <RiskTable box={riskE} xDomain={[-0.52, 10.48]} yDomain={[-0.52, 3.67]} risk={eRisk} />

      {/* (f) */}
      <KmPlot box={boxF} xDomain={[-0.49, 10.5]} yDomain={[-0.05, 1.05]} series={[fChol, fGly, fMix, fQui]} censors={[fCholCens, fGlyCens, fMixCens, fQuiCens]} medians={fMedians} />
      <RiskTable box={riskF} xDomain={[-0.49, 10.5]} yDomain={[-0.56, 3.44]} risk={fRisk} />

      {/* text, legends and frames on top of the charts */}
      <svg width={668} height={1111} style={{ position: 'absolute', left: 0, top: 0, pointerEvents: 'none' }} fontFamily={serif}>
        <defs>
          <linearGradient id="heatScale" x1="0" y1="0" x2="0" y2="1">
            <stop offset="0" stopColor="#c8001e" />
            <stop offset="0.25" stopColor="#ee4a5e" />
            <stop offset="0.5" stopColor="#ffffff" />
            <stop offset="0.75" stopColor="#4a70b0" />
            <stop offset="1" stopColor="#00206f" />
          </linearGradient>
        </defs>

        {/* (a) */}
        <rect x={150.5} y={5} width={78} height={81} fill="none" stroke="#e8401c" strokeWidth={1} />
        {corrGenes.map((g, i) => (
          <T key={g} x={278} y={7.7 + i * 6.23} size={7} fill="#f07a60">{g}</T>
        ))}
        <rect x={310} y={0} width={10} height={1.5} fill="#dedaec" />
        <T x={322} y={3} size={6}>0</T>
        <T x={182} y={150} size={10} anchor="middle">(a)</T>

        {/* (b) */}
        <text transform="translate(388,3) rotate(-90)" fontSize={8} fill={textColor}>Median Glycolysis gene expression (Z-score)</text>
        <T x={538} y={89} size={8} anchor="middle">Median Cholesterol gene expression (Z-score)</T>
        <T x={406} y={108} size={8}>metabolic subgroup</T>
        {[[407, 121, '#e31a0c', 'Cholesterol'], [407, 130.5, '#007b9e', 'Glycolysis'], [522, 121, '#006341', 'Mixed'], [522, 130.5, '#0a1e50', 'Quiescent']].map(([x, y, c, n]: any) => (
          <g key={n}>
            <circle cx={x} cy={y} r={2.2} fill={c} />
            <T x={x + 7} y={y} size={8}>{n}</T>
          </g>
        ))}
        <T x={523} y={150} size={10} anchor="middle">(b)</T>

        {/* (c) */}
        <rect x={9.3} y={213.3} width={13.7} height={111.7} fill={trackColors.CHOLESTEROL} />
        <rect x={9.3} y={326.7} width={13.7} height={85.6} fill={trackColors.GLYCOLYSIS} />
        {trackNames.map((n, i) => (
          <T key={n} x={530} y={173.5 + i * 7.2} size={6.5}>{n}</T>
        ))}
        {geneNames.map((g, i) => (
          <T key={g} x={530} y={208.3 + i * 6.9} size={6.5}>{g}</T>
        ))}
        <rect x={571} y={172} width={9} height={110} fill="url(#heatScale)" />
        {['2', '1', '0', '\u22121', '\u22122'].map((l, i) => (
          <T key={l} x={583} y={173 + i * 27} size={7}>{l}</T>
        ))}
        <Swatches title="Cluster" titleX={605} titleY={168} x={605.3} y={172.7} w={12} h={10.5} keys={['Cholesterol', 'Glycolysis', 'Mixed', 'Quiescent']} labelX={620.7} />
        <Swatches title="Recurrence" titleX={605} titleY={221} x={605.3} y={226} w={12} h={10.5} keys={['YES', 'NO']} labelX={620.7} />
        <Swatches title="Stage" titleX={605} titleY={252.5} x={605.3} y={257.7} w={12} h={10.5} keys={['I', 'II', 'III', 'IV', 'X']} labelX={620.7} />
        <Swatches title="T Stage" titleX={569.3} titleY={302} x={569.3} y={307.7} w={13} h={10.5} keys={['T1', 'T2', 'T3', 'T4', 'TX']} labelX={585} />
        <Swatches title="Grade" titleX={604} titleY={318} x={604.5} y={323} w={12.5} h={10.4} keys={['G1', 'G2', 'G3', 'G4', 'GX']} labelX={619} />
        <Swatches title="Gene Type" titleX={568} titleY={380} x={568.5} y={385} w={13} h={10.9} keys={['CHOLESTEROL', 'GLYCOLYSIS']} labelX={584} size={7.5} />
        <T x={337} y={424} size={10} anchor="middle">(c)</T>

        {/* (d) */}
        <rect x={boxD.x} y={boxD.y} width={boxD.w} height={boxD.h} fill="none" stroke="#555" strokeWidth={1.2} />
        <rect x={riskD.x} y={riskD.y} width={riskD.w} height={riskD.h} fill="none" stroke="#555" strokeWidth={1.2} />
        <text transform="translate(19,567) rotate(-90)" fontSize={8} textAnchor="middle" dominantBaseline="central" fill={textColor}>Survival probability</text>
        <T x={72.7} y={636.7}>p &lt; 0.0001</T>
        <T x={194} y={758} anchor="middle">Time (years)</T>
        <T x={61} y={771.3}>ALL</T>
        <KmLegend x1={59} x2={176} text1={79} text2={196} y1={785.7} y2={798.7} />
        <T x={169} y={817.3} size={10} anchor="middle">(d)</T>

        {/* (e) */}
        <rect x={boxE.x} y={boxE.y} width={boxE.w} height={boxE.h} fill="none" stroke="#555" strokeWidth={1.2} />
        <rect x={riskE.x} y={riskE.y} width={riskE.w} height={riskE.h} fill="none" stroke="#555" strokeWidth={1.2} />
        <text transform="translate(349.7,568) rotate(-90)" fontSize={8} textAnchor="middle" dominantBaseline="central" fill={textColor}>Survival probability</text>
        <T x={399.3} y={635}>p = 0.0077</T>
        <T x={520} y={754.7} anchor="middle">Time (years)</T>
        <T x={388} y={771.3}>Recurrence YES</T>
        <KmLegend x1={387} x2={503.6} text1={407} text2={524} y1={785.7} y2={798.7} />
        <T x={495.5} y={817.3} size={10} anchor="middle">(e)</T>

        {/* (f) */}
        <rect x={boxF.x} y={boxF.y} width={boxF.w} height={boxF.h} fill="none" stroke="#555" strokeWidth={1.2} />
        <rect x={riskF.x} y={riskF.y} width={riskF.w} height={riskF.h} fill="none" stroke="#555" strokeWidth={1.2} />
        <text transform="translate(180.7,962.7) rotate(-90)" fontSize={8} textAnchor="middle" dominantBaseline="central" fill={textColor}>Survival probability</text>
        <T x={231.7} y={1033}>p = 0.00016</T>
      </svg>
    </div>
  );
}
